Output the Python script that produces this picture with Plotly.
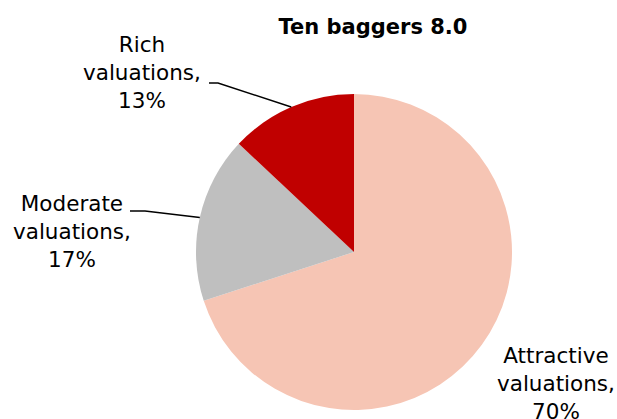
import math
import plotly.graph_objects as go

# Share of ten-bagger stocks by starting valuation
categories = ["Attractive valuations", "Moderate valuations", "Rich valuations"]
shares = [70, 17, 13]
colors = ["#F6C5B4", "#BFBFBF", "#C00000"]

# Label anchor positions (paper px) and leader elbow x for each slice
label_pos = {
    "Attractive valuations": (556, 383),
    "Moderate valuations": (72, 232),
    "Rich valuations": (142, 72),
}
leader_start = {
    "Moderate valuations": (130, 145, 211),
    "Rich valuations": (209, 218, 83),
}

W, H = 617, 419
cx, cy, r = 354, 252, 158
FONT = "DejaVu Sans"

fig = go.Figure(go.Pie(
    labels=categories,
    values=shares,
    marker=dict(colors=colors, line=dict(width=0)),
    sort=False,
    direction="clockwise",
    rotation=0,
    textinfo="none",
    hoverinfo="label+percent",
    showlegend=False,
    domain=dict(x=[(cx - r) / W, (cx + r) / W],
                y=[(H - cy - r) / H, (H - cy + r) / H]),
))

total = sum(shares)
start = 0.0
for name, v in zip(categories, shares):
    mid = start + v / total * 360 / 2
    start += v / total * 360
    lx, ly = label_pos[name]
    word, rest = name.split(" ", 1)
    fig.add_annotation(
        x=lx / W, y=1 - ly / H, xref="paper", yref="paper",
        xanchor="center", yanchor="middle",
        text=f"{word}<br>{rest},<br>{v}%",
        showarrow=False, align="center",
        font=dict(family=FONT, size=21.5, color="#000000"),
    )
    if name in leader_start:
        x0, x1, y0 = leader_start[name]
        ex = cx + r * math.sin(math.radians(mid))
        ey = cy - r * math.cos(math.radians(mid))
        fig.add_shape(type="path", xref="paper", yref="paper",
                      path=f"M {x0/W} {1-y0/H} L {x1/W} {1-y0/H} L {ex/W} {1-ey/H}",
                      line=dict(color="#000000", width=1.5))

fig.update_layout(
    width=W, height=H,
    margin=dict(l=0, r=0, t=0, b=0),
    paper_bgcolor="white", plot_bgcolor="white",
    title=dict(text="<b>Ten baggers 8.0</b>", x=373 / W, y=1 - 27 / H,
               xanchor="center", yanchor="middle",
               font=dict(family=FONT, size=21, color="#000000")),
)

fig.write_html("out.html")
